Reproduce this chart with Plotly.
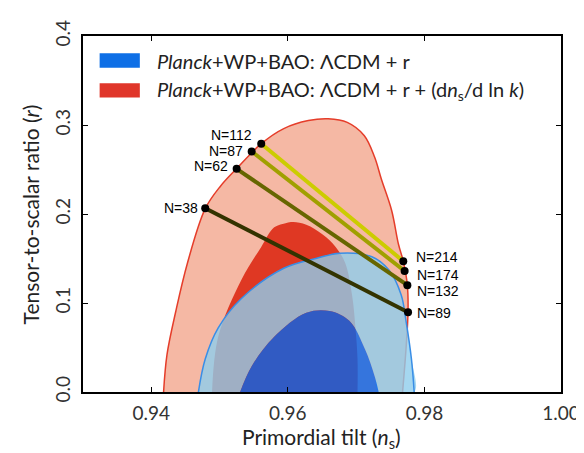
import plotly.graph_objects as go

# ---------------- data ----------------
red_outer_x = [0.9418, 0.9423, 0.9436, 0.9453, 0.9479, 0.9501, 0.9525, 0.9561, 0.9594, 0.9630, 0.9659,
               0.9687, 0.9712, 0.9727, 0.9737, 0.9752, 0.9762, 0.9769, 0.9775, 0.9776, 0.9773, 0.9768]
red_outer_y = [0.0, 0.042, 0.091, 0.145, 0.206, 0.231, 0.251, 0.279, 0.296, 0.305, 0.307,
               0.303, 0.288, 0.264, 0.239, 0.204, 0.166, 0.147, 0.120, 0.091, 0.048, 0.0]

red_inner_x = [0.9489, 0.9498, 0.9532, 0.9561, 0.9580, 0.9598, 0.9608, 0.9627, 0.9651, 0.9670,
               0.9684, 0.9694, 0.9699, 0.9702, 0.9702]
red_inner_y = [0.0, 0.062, 0.126, 0.163, 0.185, 0.190, 0.191, 0.188, 0.177, 0.163,
               0.145, 0.109, 0.072, 0.037, 0.0]

blue_outer_x = [0.9469, 0.9479, 0.9498, 0.9532, 0.9594, 0.9641, 0.9676, 0.9723, 0.9748, 0.9766,
                0.9773, 0.9781, 0.9785]
blue_outer_y = [0.0, 0.037, 0.072, 0.105, 0.139, 0.150, 0.156, 0.152, 0.137, 0.109,
                0.080, 0.037, 0.0]

blue_inner_x = [0.9530, 0.9547, 0.9580, 0.9627, 0.9661, 0.9690, 0.9713, 0.9727, 0.9733]
blue_inner_y = [0.0, 0.029, 0.062, 0.089, 0.091, 0.080, 0.048, 0.018, 0.0]

# inflation model lines: (N at left end, N at right end)
n_left = [38, 62, 87, 112]
left_x = [0.9479, 0.9525, 0.9547, 0.9561]
left_y = [0.2065, 0.2508, 0.2703, 0.2789]
n_right = [89, 132, 174, 214]
right_x = [0.9776, 0.9775, 0.9771, 0.9769]
right_y = [0.0897, 0.120, 0.136, 0.147]

x_ticks = [0.94, 0.96, 0.98, 1.00]
x_tick_text = ["0.94", "0.96", "0.98", "1.00"]
y_ticks = [0.0, 0.1, 0.2, 0.3, 0.4]
y_tick_text = ["0.0", "0.1", "0.2", "0.3", "0.4"]

legend_labels = ["<i>Planck</i>+WP+BAO: \u039bCDM + r",
                 "<i>Planck</i>+WP+BAO: \u039bCDM + r + (d<i>n</i><sub>s</sub>/d ln <i>k</i>)"]

# ---------------- styles ----------------
line_colors = ["#333300", "#666600", "#a0a000", "#cccc00"]
left_shift = [(-5, 0), (-7, 3), (-7, 0), (-7, 9)]
right_shift = [(7, -1), (8, -6), (10, -4), (11, 4)]
FONT = "Lato"
EPS = 1e-6

fig = go.Figure()

# red contours
fig.add_trace(go.Scatter(x=red_outer_x, y=red_outer_y, mode="lines", fill="toself",
                         fillcolor="#f5b8a4", line=dict(color="#e53d2a", width=1.5, shape="spline"),
                         hoverinfo="skip", showlegend=False))
fig.add_trace(go.Scatter(x=red_inner_x, y=red_inner_y, mode="lines", fill="toself",
                         fillcolor="#df3823", line=dict(color="#df3823", width=0, shape="spline"),
                         hoverinfo="skip", showlegend=False))
# blue outer ring (outer contour minus inner contour)
ring_x = blue_outer_x + blue_inner_x[::-1]
ring_y = blue_outer_y + blue_inner_y[::-1]
fig.add_trace(go.Scatter(x=ring_x, y=ring_y, mode="lines", fill="toself",
                         fillcolor="rgba(142,205,236,0.8)", line=dict(width=0, shape="spline"),
                         hoverinfo="skip", showlegend=False))
fig.add_trace(go.Scatter(x=blue_inner_x, y=blue_inner_y, mode="lines", fill="toself",
                         fillcolor="rgba(5,100,235,0.8)", line=dict(width=0, shape="spline"),
                         hoverinfo="skip", showlegend=False))
fig.add_trace(go.Scatter(x=blue_outer_x, y=blue_outer_y, mode="lines",
                         line=dict(color="#3a8ee6", width=1.5, shape="spline"),
                         hoverinfo="skip", showlegend=False))

# model lines
for i in range(len(n_left)):
    fig.add_trace(go.Scatter(x=[left_x[i], right_x[i]], y=[left_y[i], right_y[i]], mode="lines",
                             line=dict(color=line_colors[i], width=4),
                             hoverinfo="skip", showlegend=False))
fig.add_trace(go.Scatter(x=left_x + right_x, y=left_y + right_y, mode="markers",
                         marker=dict(color="black", size=8), hoverinfo="skip", showlegend=False))

annotations = []
for i, n in enumerate(n_left):
    annotations.append(dict(x=left_x[i], y=left_y[i], xref="x", yref="y", text=f"N={n}",
                            showarrow=False, xanchor="right", yanchor="middle",
                            xshift=left_shift[i][0], yshift=left_shift[i][1],
                            font=dict(family="Liberation Sans", size=14, color="black")))
for i, n in enumerate(n_right):
    annotations.append(dict(x=right_x[i], y=right_y[i], xref="x", yref="y", text=f"N={n}",
                            showarrow=False, xanchor="left", yanchor="middle",
                            xshift=right_shift[i][0], yshift=right_shift[i][1],
                            font=dict(family="Liberation Sans", size=14, color="black")))

# legend (manual)
legend_colors = ["#0e6fe6", "#e0362a"]
legend_rows = [(0.9514, 0.9108, 0.9297), (0.8676, 0.8270, 0.8459)]
shapes = []
for (top, bot, mid), col, lab in zip(legend_rows, legend_colors, legend_labels):
    shapes.append(dict(type="rect", xref="paper", yref="paper", x0=0.0348, x1=0.1189,
                       y0=bot, y1=top, fillcolor=col, line=dict(width=0)))
    annotations.append(dict(x=0.1496, y=mid, xref="paper", yref="paper", text=lab,
                            showarrow=False, xanchor="left", yanchor="middle",
                            font=dict(family=FONT, size=20, color="#222222")))

# axis titles
annotations.append(dict(x=0.498, y=-0.128, xref="paper", yref="paper",
                        text="Primordial tilt (<i>n</i><sub>s</sub>)", showarrow=False,
                        xanchor="center", yanchor="middle",
                        font=dict(family=FONT, size=21, color="#222222")))
annotations.append(dict(x=-0.11, y=0.5, xref="paper", yref="paper",
                        text="Tensor-to-scalar ratio (<i>r</i>)", showarrow=False, textangle=-90,
                        xanchor="center", yanchor="middle",
                        font=dict(family=FONT, size=21, color="#222222")))

fig.update_layout(
    width=584, height=453,
    margin=dict(l=75, r=21, t=14, b=69),
    paper_bgcolor="white", plot_bgcolor="white",
    annotations=annotations, shapes=shapes,
    xaxis=dict(range=[0.93 - EPS, 1.0 + EPS], tickvals=x_ticks, ticktext=x_tick_text,
               ticks="inside", ticklen=5, tickcolor="black", mirror="ticks",
               showline=True, linecolor="black", linewidth=1.5, showgrid=False, zeroline=False,
               ticklabelstandoff=3, ticklabeloverflow="allow",
               tickfont=dict(family=FONT, size=19, color="#333333")),
    yaxis=dict(range=[0 - EPS, 0.4 + EPS], tickvals=y_ticks, ticktext=y_tick_text, tickangle=-90,
               ticks="inside", ticklen=5, tickcolor="black", mirror="ticks",
               showline=True, linecolor="black", linewidth=1.5, showgrid=False, zeroline=False,
               ticklabelstandoff=4, ticklabeloverflow="allow",
               tickfont=dict(family=FONT, size=19, color="#333333")),
)

fig.write_html("out.html")
